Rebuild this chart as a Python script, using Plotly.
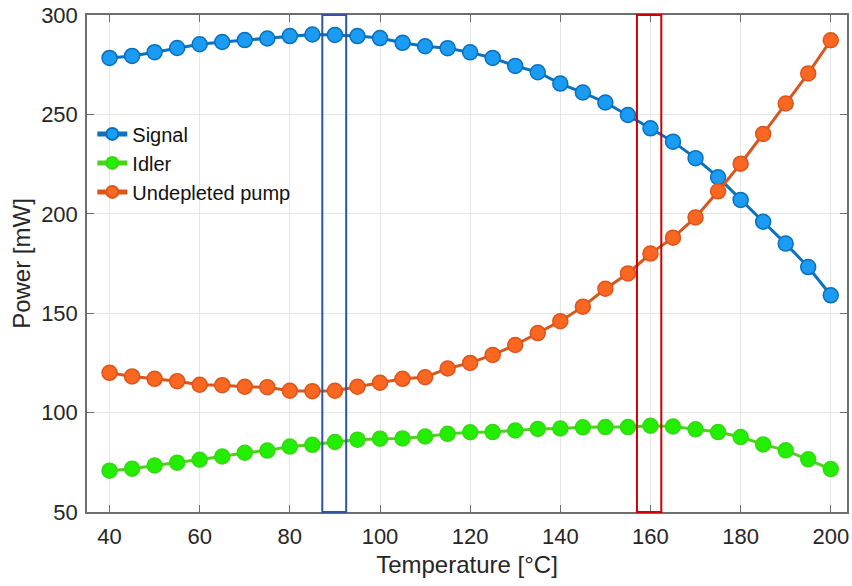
import plotly.graph_objects as go

# Temperature sweep [°C]
temperature = [40, 45, 50, 55, 60, 65, 70, 75, 80, 85, 90, 95, 100, 105, 110, 115,
               120, 125, 130, 135, 140, 145, 150, 155, 160, 165, 170, 175, 180,
               185, 190, 195, 200]

# Output powers [mW]
signal = [278.4, 279.4, 281.3, 283.4, 285.3, 286.4, 287.4, 288.2, 289.4, 290.2,
          290.0, 289.4, 288.4, 286.0, 284.3, 283.3, 281.2, 278.4, 274.4, 271.2,
          265.5, 261.0, 256.0, 249.7, 243.0, 236.3, 228.0, 218.4, 207.0, 196.0,
          185.0, 173.2, 159.0]
idler = [70.8, 71.8, 73.4, 74.8, 76.3, 77.9, 79.8, 80.9, 82.9, 83.8, 85.2, 86.4,
         86.9, 87.0, 88.0, 89.3, 90.1, 90.2, 91.0, 91.8, 92.0, 92.6, 92.7, 92.7,
         93.4, 93.0, 91.6, 90.2, 87.7, 84.0, 81.0, 76.5, 71.6]
pump = [120.0, 118.2, 117.0, 115.8, 114.0, 113.8, 113.0, 112.8, 111.0, 110.8,
        111.0, 113.0, 115.0, 117.0, 117.8, 122.2, 125.0, 129.0, 134.0, 140.0,
        146.0, 153.3, 162.3, 170.0, 180.0, 188.0, 198.2, 211.3, 225.2, 240.2,
        255.5, 270.6, 287.3]

series = [
    ("Signal", signal, "#0a72c0", "#1a9cf5", "#0b6fb8"),
    ("Idler", idler, "#4fd11c", "#22ee00", "#38d616"),
    ("Undepleted pump", pump, "#d9561c", "#fb6620", "#d9561c"),
]

FONT = "Liberation Sans, Arial, sans-serif"

fig = go.Figure()
for name, values, line_col, fill_col, edge_col in series:
    fig.add_trace(go.Scatter(
        x=temperature, y=values, name=name, mode="lines+markers",
        line=dict(color=line_col, width=3),
        marker=dict(size=15, color=fill_col, line=dict(color=edge_col, width=1.5)),
    ))

# Highlighted temperature windows
fig.add_shape(type="rect", xref="x", yref="paper", x0=87.2, x1=92.5, y0=0, y1=1,
              line=dict(color="#2f55a4", width=2), fillcolor="rgba(0,0,0,0)")
fig.add_shape(type="rect", xref="x", yref="paper", x0=157.0, x1=162.4, y0=0, y1=1,
              line=dict(color="#d00000", width=2), fillcolor="rgba(0,0,0,0)")

axis_common = dict(
    showline=True, linecolor="#6e6e6e", linewidth=1.5, mirror="ticks",
    ticks="inside", ticklen=7, tickcolor="#6e6e6e", tickwidth=1,
    showgrid=True, gridcolor="#e6e6e6", gridwidth=1, zeroline=False,
    tickfont=dict(family=FONT, size=22, color="#262626"),
)

fig.update_xaxes(
    range=[35, 203.6], tickvals=[40, 60, 80, 100, 120, 140, 160, 180, 200],
    ticklabelstandoff=4,
    title=dict(text="Temperature [°C]", standoff=8,
               font=dict(family=FONT, size=24, color="#262626")),
    **axis_common,
)
fig.update_yaxes(
    range=[50, 300], tickvals=[50, 100, 150, 200, 250, 300],
    ticklabelstandoff=3,
    title=dict(text="Power [mW]", standoff=4,
               font=dict(family=FONT, size=24, color="#262626")),
    **axis_common,
)

fig.update_layout(
    width=852, height=586,
    margin=dict(l=87, r=3, t=13, b=74),
    plot_bgcolor="white", paper_bgcolor="white",
    legend=dict(x=0.007, y=0.80, xanchor="left", yanchor="top",
                bgcolor="rgba(0,0,0,0)", borderwidth=0,
                font=dict(family=FONT, size=20, color="#111111"),
                tracegroupgap=0, itemwidth=30, itemsizing="constant"),
    showlegend=True,
)

fig.write_html("out.html")
